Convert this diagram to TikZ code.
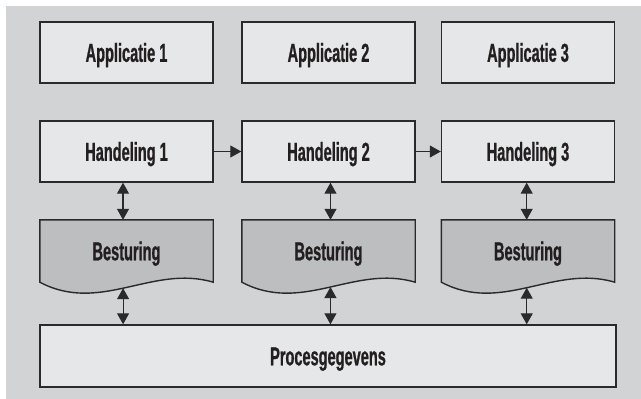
\documentclass[tikz,border=0pt]{standalone}
\usepackage{fontspec}
\newfontfamily\labelfont{Liberation Sans Bold}[FakeStretch=0.56,FakeBold=0.8]
\usetikzlibrary{arrows.meta,calc}
\definecolor{panelgray}{HTML}{D2D3D5}
\definecolor{boxlight}{HTML}{E6E7E8}
\definecolor{boxdark}{HTML}{BDBEC0}
\definecolor{inkline}{HTML}{2A2A2A}
\definecolor{inktext}{HTML}{231F20}
\tikzset{
  labeltext/.style={font=\labelfont\fontsize{26}{26}\selectfont, text=inktext,
    text height=18.6pt, text depth=0pt},
  box/.style={labeltext, draw=inkline, line width=1.4pt, fill=boxlight, minimum width=173pt,
    minimum height=61pt, inner sep=0pt},
  docbox/.style={labeltext, draw=none, minimum width=173pt, minimum height=62pt, inner sep=0pt},
  docfill/.style={draw=inkline, line width=1.4pt, fill=boxdark},
  link/.style={draw=inkline, line width=1.1pt, -{Triangle[length=11pt,width=12pt]}},
  dlink/.style={draw=inkline, line width=1.1pt, {Triangle[length=11pt,width=12pt]}-{Triangle[length=11pt,width=12pt]}}
}
\begin{document}
\begin{tikzpicture}[x=1pt,y=-1pt]
\useasboundingbox (0,0) rectangle (641,399);
\fill[panelgray] (6,6) rectangle (641,399);

% application row
\node[box] (a1) at (126.5,52.5) {Applicatie 1};
\node[box] (a2) at (328.5,52.5) {Applicatie 2};
\node[box] (a3) at (528,52.5) {Applicatie 3};

% actions row
\node[box] (h1) at (126.5,151.5) {Handeling 1};
\node[box] (h2) at (328.5,151.5) {Handeling 2};
\node[box] (h3) at (528,151.5) {Handeling 3};

% process data
\node[box, minimum width=576pt, minimum height=62pt] (p) at (328,356) {Procesgegevens};

% control documents with a wavy lower edge; c<i> marks the x of the column's links
\foreach \i/\x/\cx in {1/126.5/123,2/328.5/330.5,3/528/526.7}{
  \coordinate (c\i) at (\cx,0);
  \node[docbox] (b\i) at (\x,251) {};
  \draw[docfill] (b\i.north west) -- (b\i.north east) -- (b\i.south east)
    .. controls ($(b\i.south west)!0.65!(b\i.south east)+(0,-18)$)
            and ($(b\i.south west)!0.35!(b\i.south east)+(0,32)$) .. (b\i.south west)
    coordinate[pos={(\x-\cx)/173+0.5}] (w\i) -- cycle;
  \node[docbox] at (b\i) {Besturing};
}

% connectors
\draw[link] (h1) -- (h2);
\draw[link] (h2) -- (h3);
\foreach \i in {1,2,3}{
  \draw[dlink] (h\i.south -| c\i) -- (b\i.north -| c\i);
  \draw[dlink] (w\i) -- (w\i |- p.north);
}
\end{tikzpicture}
\end{document}
